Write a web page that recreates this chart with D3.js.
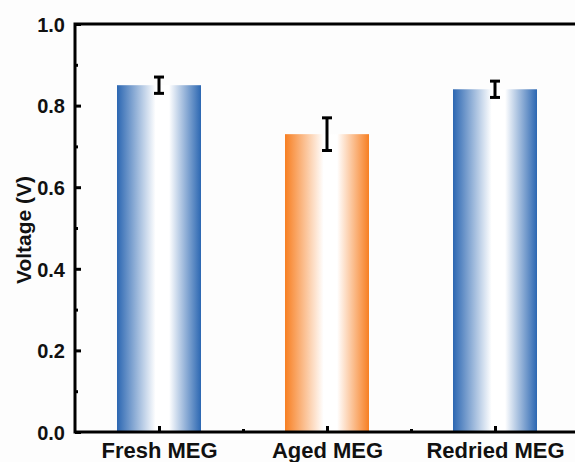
<!DOCTYPE html>
<html><head><meta charset="utf-8">
<script src="https://cdn.jsdelivr.net/npm/d3@7"></script>
<style>body{margin:0;background:#fdfdfd;}svg{display:block;font-family:Arial,"Liberation Sans",sans-serif;}</style>
</head><body>
<svg id="c" width="575" height="462"></svg>
<script>
const categories = ["Fresh MEG", "Aged MEG", "Redried MEG"];
const values = [0.85, 0.73, 0.84];
const errors = [0.02, 0.04, 0.02];
const colors = ["#2c67b2", "#f77f22", "#2c67b2"];
const yTicks = [0.0, 0.2, 0.4, 0.6, 0.8, 1.0];
const yMinor = [0.1, 0.3, 0.5, 0.7, 0.9];

const svg = d3.select("#c");
const L = 75, T = 24, B = 432;
const x = d3.scaleLinear().domain([0.5, 3.5]).range([L, L + 504]);
const y = d3.scaleLinear().domain([0, 1]).range([B, T]);
const barW = x(1.5) - x(1);

const defs = svg.append("defs");
colors.forEach((c, i) => {
  const g = defs.append("linearGradient").attr("id", "g" + i).attr("x1", "0").attr("x2", "1").attr("y1", "0").attr("y2", "0");
  g.append("stop").attr("offset", "0").attr("stop-color", c);
  g.append("stop").attr("offset", "0.46").attr("stop-color", "#ffffff");
  g.append("stop").attr("offset", "0.62").attr("stop-color", "#ffffff");
  g.append("stop").attr("offset", "1").attr("stop-color", c);
});

svg.selectAll("rect.bar").data(values).enter().append("rect")
  .attr("class", "bar")
  .attr("x", (d, i) => x(i + 1) - barW / 2)
  .attr("y", d => y(d))
  .attr("width", barW)
  .attr("height", d => y(0) - y(d))
  .attr("fill", (d, i) => `url(#g${i})`);

// error bars
const eb = svg.append("g").attr("stroke", "#000").attr("stroke-width", 3);
values.forEach((v, i) => {
  const cx = x(i + 1);
  eb.append("line").attr("x1", cx).attr("x2", cx).attr("y1", y(v + errors[i])).attr("y2", y(v - errors[i]));
  eb.append("line").attr("x1", cx - 5).attr("x2", cx + 5).attr("y1", y(v + errors[i])).attr("y2", y(v + errors[i]));
  eb.append("line").attr("x1", cx - 5).attr("x2", cx + 5).attr("y1", y(v - errors[i])).attr("y2", y(v - errors[i]));
});

// y axis
const yAxis = svg.append("g").attr("transform", `translate(${L},0)`)
  .call(d3.axisLeft(y).tickValues(yTicks).tickFormat(d3.format(".1f")).tickSizeInner(-6).tickSizeOuter(0).tickPadding(10));
yAxis.select(".domain").remove();
yAxis.selectAll(".tick line").attr("stroke-width", 3);
yAxis.selectAll("text").attr("font-size", 20).attr("font-weight", "bold").attr("fill", "#111").attr("dy", "0.36em");
const yMin = svg.append("g").attr("transform", `translate(${L},0)`)
  .call(d3.axisLeft(y).tickValues(yMinor).tickFormat("").tickSizeInner(-3).tickSizeOuter(0));
yMin.select(".domain").remove();
yMin.selectAll(".tick line").attr("stroke-width", 3);

// x axis
const xAxis = svg.append("g").attr("transform", `translate(0,${B})`)
  .call(d3.axisBottom(x).tickValues([1, 2, 3]).tickFormat((d, i) => categories[i]).tickSizeInner(-6).tickSizeOuter(0).tickPadding(10));
xAxis.select(".domain").remove();
xAxis.selectAll(".tick line").attr("stroke-width", 3);
xAxis.selectAll("text").attr("font-size", 22).attr("font-weight", "bold").attr("fill", "#111");
const xMin = svg.append("g").attr("transform", `translate(0,${B})`)
  .call(d3.axisBottom(x).tickValues([1.5, 2.5]).tickFormat("").tickSizeInner(-3).tickSizeOuter(0));
xMin.select(".domain").remove();
xMin.selectAll(".tick line").attr("stroke-width", 3);

// frame
svg.append("rect").attr("x", L).attr("y", T).attr("width", x(3.5) - L).attr("height", B - T)
  .attr("fill", "none").attr("stroke", "#000").attr("stroke-width", 3);

svg.append("text").attr("transform", `translate(31,${(T + B) / 2 + 2}) rotate(-90)`)
  .attr("text-anchor", "middle").attr("font-size", 21).attr("font-weight", "bold").attr("fill", "#111")
  .text("Voltage (V)");
</script>
</body></html>
